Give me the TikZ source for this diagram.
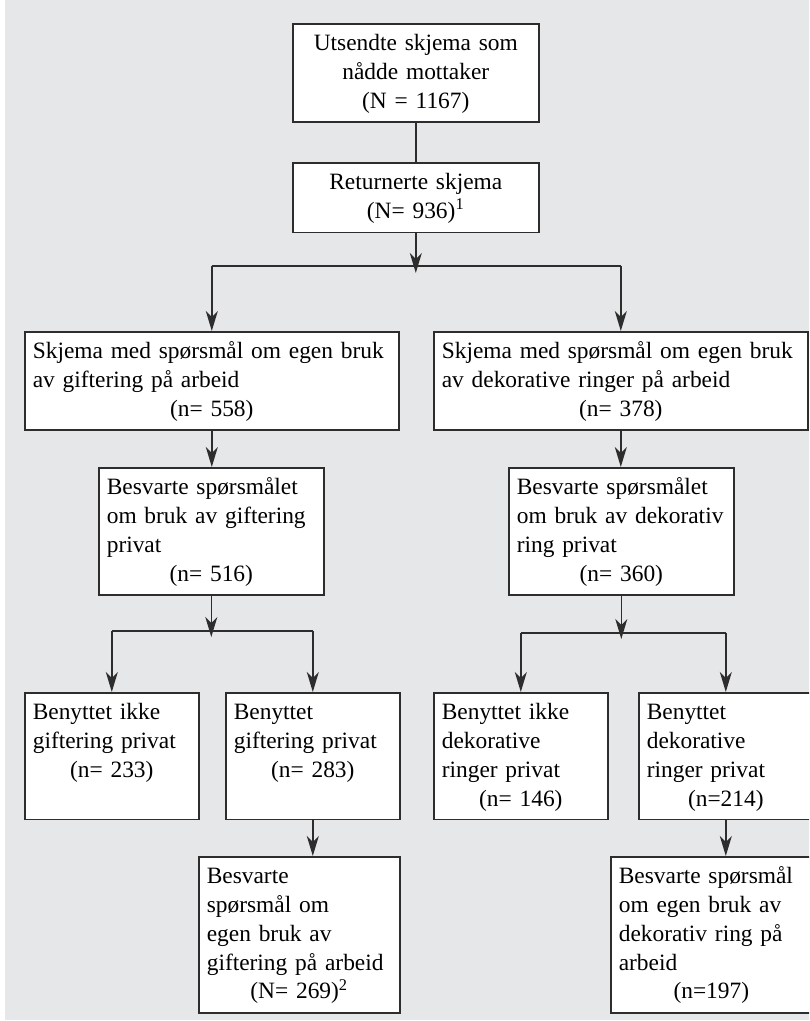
\documentclass[tikz,border=0pt]{standalone}
\usepackage{fontspec}
\setmainfont{Liberation Serif}
\usepackage{tikz}
\usetikzlibrary{arrows.meta}
\definecolor{bakgrunn}{RGB}{230, 231, 232}
\definecolor{strek}{RGB}{45, 45, 45}
\newcommand{\antall}[1]{\makebox[\hsize]{#1}}

\begin{document}
\begin{tikzpicture}[x=0.5pt, y=-0.5pt,
        boks/.style={draw=strek, line width=0.8pt, fill=white, anchor=north west,
            inner xsep=4pt, inner ysep=4.45pt, text height=9pt, align=left,
            font=\fontsize{11.7}{14.4}\selectfont,
            execute at begin node={\rightskip=-8pt plus 1fil\hyphenpenalty=10000}},
        midt/.style={align=center, execute at begin node={\centering}},
        nederst/.style={text depth=45.5pt},
        linje/.style={draw=strek, line width=0.8pt},
        pil/.style={linje, -{Stealth[length=10pt, width=6pt, inset=3pt]}}]
        % ramme og bakgrunn
        \useasboundingbox (0,0) rectangle (809,1021);
        \clip (0,0) rectangle (809,1021);
        \fill[bakgrunn] (5,0) rectangle (809,1020);

        % utsendte og returnerte skjema
        \node[boks, midt, text width=115pt] (utsendt) at (292,23)
            {Utsendte skjema som\\ nådde mottaker\\ (N = 1167)};
        \node[boks, midt, text width=115pt] (returnert) at (292,162)
            {Returnerte skjema\\ (N= 936)\textsuperscript{1}};

        % de to skjematypene
        \node[boks, text width=179pt] (giftarb) at (24,331)
            {Skjema med spørsmål om egen bruk\\ av giftering på arbeid\\ \antall{(n= 558)}};
        \node[boks, text width=179pt] (dekorarb) at (433,331)
            {Skjema med spørsmål om egen bruk\\ av dekorative ringer på arbeid\\ \antall{(n= 378)}};

        % svar om privat bruk
        \node[boks, text width=104.5pt] (giftpriv) at (98,467)
            {Besvarte spørsmålet\\ om bruk av giftering\\ privat\\ \antall{(n= 516)}};
        \node[boks, text width=104.5pt] (dekorpriv) at (508,467)
            {Besvarte spørsmålet\\ om bruk av dekorativ\\ ring privat\\ \antall{(n= 360)}};

        % benyttet / benyttet ikke
        \node[boks, nederst, text width=79pt] (giftikke) at (24,692)
            {Benyttet ikke\\ giftering privat\\ \antall{(n= 233)}};
        \node[boks, nederst, text width=79pt] (giftja) at (225,692)
            {Benyttet\\ giftering privat\\ \antall{(n= 283)}};
        \node[boks, nederst, text width=79pt] (dekorikke) at (433,692)
            {Benyttet ikke\\ dekorative\\ ringer privat\\ \antall{(n= 146)}};
        \node[boks, nederst, text width=79pt] (dekorja) at (638,692)
            {Benyttet\\ dekorative\\ ringer privat\\ \antall{(n=214)}};

        % svar om bruk på arbeid
        \node[boks, text width=92.5pt] (giftsvar) at (198,856)
            {Besvarte\\ spørsmål om\\ egen bruk av\\ giftering på arbeid\\ \antall{(N= 269)\textsuperscript{2}}};
        \node[boks, text width=92.5pt] (dekorsvar) at (610,856)
            {Besvarte spørsmål\\ om egen bruk av\\ dekorativ ring på\\ arbeid\\ \antall{(n=197)}};

        % forgreiningspunkt
        \coordinate (gren1) at (414,266);
        \coordinate (spiss1) at (414,273);
        \coordinate (gren2) at (210,631);
        \coordinate (spiss2) at (210,637);
        \coordinate (gren3) at (620,633);
        \coordinate (spiss3) at (620,639);

        % piler
        \draw[linje] (utsendt.south) -- (utsendt.south |- returnert.north);
        \draw[pil] (returnert.south) -- (returnert.south |- spiss1);
        \draw[linje] (gren1 -| giftarb.north) -- (gren1 -| dekorarb.north);
        \draw[pil] (gren1 -| giftarb.north) -- (giftarb.north);
        \draw[pil] (gren1 -| dekorarb.north) -- (dekorarb.north);

        \draw[pil] (giftarb.south) -- (giftarb.south |- giftpriv.north);
        \draw[pil] (dekorarb.south) -- (dekorarb.south |- dekorpriv.north);

        \draw[pil] (giftpriv.south) -- (giftpriv.south |- spiss2);
        \draw[linje] (gren2 -| giftikke.north) -- (gren2 -| giftja.north);
        \draw[pil] (gren2 -| giftikke.north) -- (giftikke.north);
        \draw[pil] (gren2 -| giftja.north) -- (giftja.north);

        \draw[pil] (dekorpriv.south) -- (dekorpriv.south |- spiss3);
        \draw[linje] (gren3 -| dekorikke.north) -- (gren3 -| dekorja.north);
        \draw[pil] (gren3 -| dekorikke.north) -- (dekorikke.north);
        \draw[pil] (gren3 -| dekorja.north) -- (dekorja.north);

        \draw[pil] (giftja.south) -- (giftja.south |- giftsvar.north);
        \draw[pil] (dekorja.south) -- (dekorja.south |- dekorsvar.north);
    \end{tikzpicture}
\end{document}
